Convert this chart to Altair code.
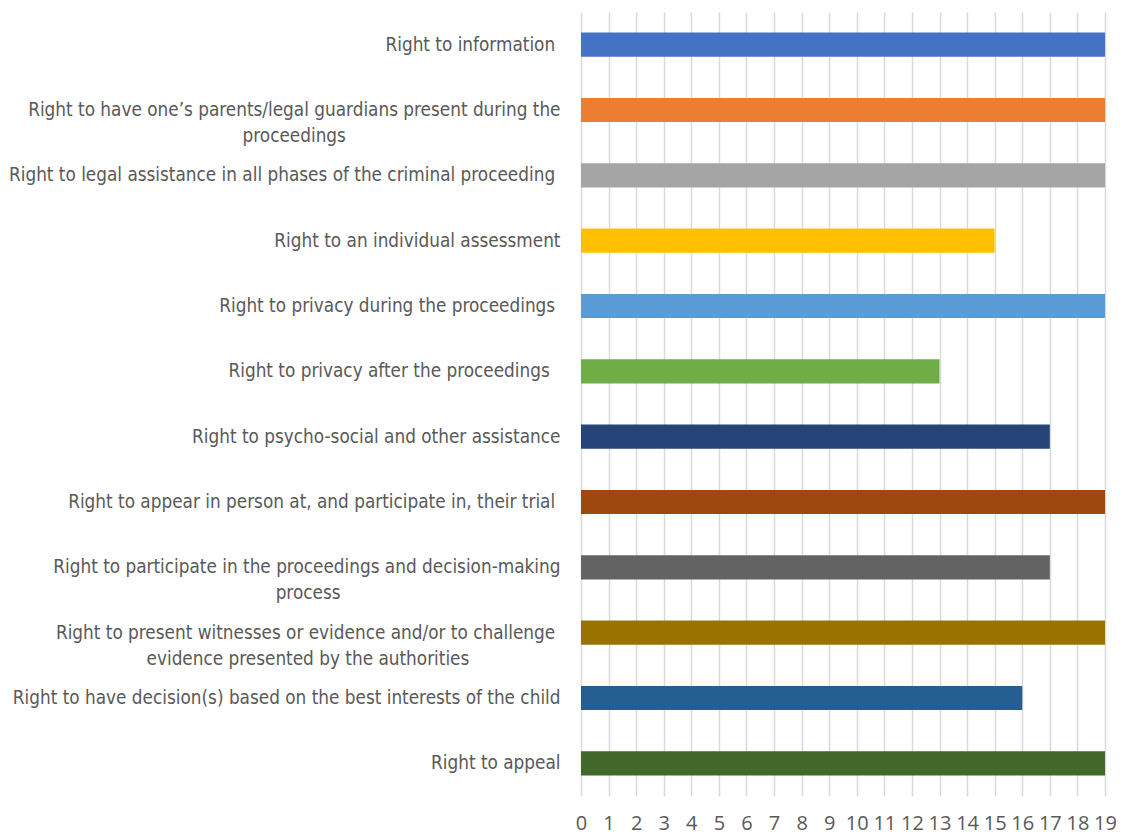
import altair as alt
import pandas as pd

NB = "\u00a0"
ZW = "\u200b"

categories = [
    "Right to information",
    "Right to have one's parents/legal guardians present during the proceedings",
    "Right to legal assistance in all phases of the criminal proceeding",
    "Right to an individual assessment",
    "Right to privacy during the proceedings",
    "Right to privacy after the proceedings",
    "Right to psycho-social and other assistance",
    "Right to appear in person at, and participate in, their trial",
    "Right to participate in the proceedings and decision-making process",
    "Right to present witnesses or evidence and/or to challenge evidence presented by the authorities",
    "Right to have decision(s) based on the best interests of the child",
    "Right to appeal",
]

label_lines = [
    ["Right to information" + NB + ZW],
    ["Right to have one\u2019s parents/legal guardians present during the", "proceedings" + NB * 40 + ZW],
    ["Right to legal assistance in all phases of the criminal proceeding" + NB + ZW],
    ["Right to an individual assessment"],
    ["Right to privacy during the proceedings" + NB + ZW],
    ["Right to privacy after the proceedings" + NB * 2 + ZW],
    ["Right to psycho-social and other assistance"],
    ["Right to appear in person at, and participate in, their trial" + NB + ZW],
    ["Right to participate in the proceedings and decision-making", "process" + NB * 41 + ZW],
    ["Right to present witnesses or evidence and/or to challenge" + NB + ZW, "evidence presented by the authorities" + NB * 17 + ZW],
    ["Right to have decision(s) based on the best interests of the child"],
    ["Right to appeal"],
]

values = [19, 19, 19, 15, 19, 13, 17, 19, 17, 19, 16, 19]

colors = [
    "#4472C4", "#ED7D31", "#A5A5A5", "#FFC000", "#5B9BD5", "#70AD47",
    "#264478", "#9E480E", "#636363", "#997300", "#255E91", "#43682B",
]

x_ticks = list(range(0, 20))

labels = ["|".join(l) for l in label_lines]

df = pd.DataFrame({
    "category": categories,
    "label": labels,
    "value": values,
})

chart = (
    alt.Chart(df)
    .mark_bar()
    .encode(
        y=alt.Y(
            "label:N",
            sort=labels,
            scale=alt.Scale(paddingInner=0.63, paddingOuter=0.315),
            axis=alt.Axis(
                title=None,
                domain=False,
                ticks=False,
                labelExpr="split(datum.label, '|')",
                labelFont="Liberation Sans Narrow, DejaVu Sans Condensed, Roboto",
                labelFontSize=18.8,
                labelColor="#595959",
                labelPadding=21,
                labelLimit=1000,
                labelLineHeight=26,
            ),
        ),
        x=alt.X(
            "value:Q",
            scale=alt.Scale(domain=[0, 19], nice=False),
            axis=alt.Axis(
                title=None,
                values=x_ticks,
                format="d",
                grid=True,
                gridColor="#d9d9d9",
                gridWidth=1.5,
                domain=False,
                ticks=False,
                labelFont="Open Sans, Liberation Sans",
                labelFontSize=20,
                labelColor="#595959",
                labelPadding=17,
                labelOverlap=False,
                labelFlush=False,
            ),
        ),
        color=alt.Color(
            "category:N",
            scale=alt.Scale(domain=categories, range=colors),
            legend=None,
        ),
    )
    .properties(
        width=524,
        height=784,
        autosize=alt.AutoSizeParams(type="none"),
        padding={"left": 573, "top": 4, "right": 11, "bottom": 39},
    )
    .configure_view(stroke=None)
)

chart.save("out.html", embed_options={"renderer": "svg", "actions": False})
